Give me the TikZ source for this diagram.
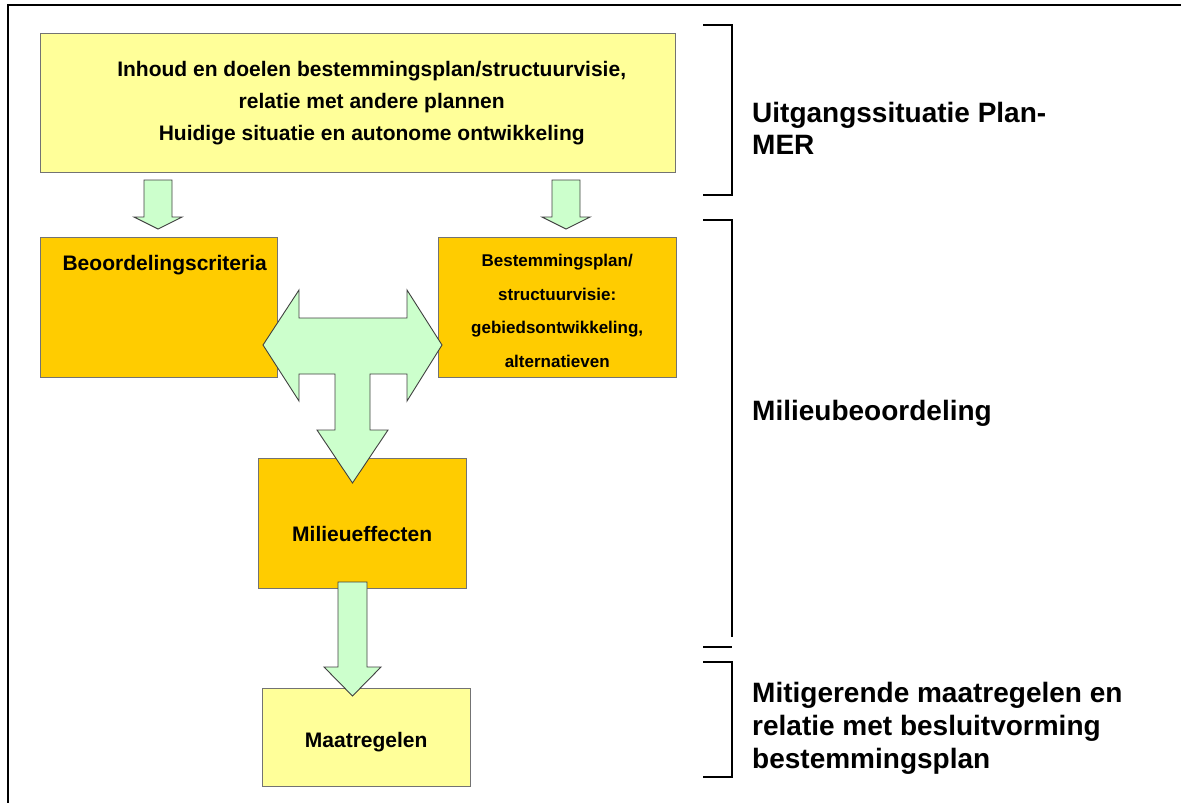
\documentclass[tikz,border=0pt]{standalone}
\usepackage{fontspec}
\setmainfont{Liberation Sans}
\usetikzlibrary{positioning}
\definecolor{paleyellow}{HTML}{FFFF99}
\definecolor{planorange}{HTML}{FFCC00}
\definecolor{palegreen}{HTML}{CCFFCC}
\tikzset{
	startbox/.style  = {draw=black!55, fill=paleyellow, rectangle, anchor=north west, inner sep=0pt},
	stepbox/.style   = {draw=black!55, fill=planorange, rectangle, anchor=north west, inner sep=0pt},
	blockarrow/.style = {draw=black!75, fill=palegreen, line width=0.9pt, line join=miter},
	bracket/.style   = {draw, line width=2.6pt},
	phase/.style     = {anchor=base west, align=left, inner sep=0pt,
		font=\fontsize{28}{32}\selectfont\bfseries}
}
\newcommand{\boxtext}{\fontsize{17}{33.5}\selectfont\bfseries}
\newcommand{\bigboxtext}{\fontsize{21}{32}\selectfont\bfseries}
\newcommand{\indentline}{\hspace*{28pt}}

\begin{document}
\begin{tikzpicture}[x=1pt, y=-1pt]
	\useasboundingbox (0,0) rectangle (1181,803);
	% outer frame (runs off the page at right and bottom)
	\draw[line width=2.6pt] (8,5) rectangle (1195,815);

	\draw
	% Drawing the boxes
	node at (40,33) [startbox, minimum width=635pt, minimum height=139pt, align=center, font=\bigboxtext] (start)
		{\indentline Inhoud en doelen bestemmingsplan/structuurvisie,\\\indentline relatie met andere plannen\\\indentline Huidige situatie en autonome ontwikkeling}
	node at (40,237) [stepbox, minimum width=237pt, text height=33pt, text depth=107pt,
		font=\bigboxtext] (crit) {\hspace*{12pt}Beoordelingscriteria}
	node at (438,237) [stepbox, minimum width=238pt, text height=130pt, text depth=10pt, align=center, font=\boxtext] (alt)
		{Bestemmingsplan/\\structuurvisie:\\gebiedsontwikkeling,\\alternatieven}
	node at (258,458) [stepbox, minimum width=208pt, text height=83pt, text depth=47pt,
		font=\bigboxtext] (eff) {Milieueffecten}
	node at (262,688) [startbox, minimum width=208pt, text height=59pt, text depth=39pt,
		font=\bigboxtext] (mit) {Maatregelen}
	;

	% block arrows from the start box
	\draw[blockarrow] (144,180) -- (172,180) -- (172,217) -- (182,217) -- (158,229)
		-- (134,217) -- (144,217) -- cycle;
	\draw[blockarrow] (552,180) -- (580,180) -- (580,217) -- (590,217) -- (566,229)
		-- (542,217) -- (552,217) -- cycle;
	% double arrow between criteria and alternatives, down to effects
	\draw[blockarrow] (263,345) -- (299,290) -- (299,318) -- (407,318) -- (407,290)
		-- (442,345) -- (407,401) -- (407,374) -- (370,374) -- (370,430) -- (388,430)
		-- (352.5,483) -- (317,430) -- (335,430) -- (335,374) -- (299,374) -- (299,401) -- cycle;
	% effects to measures
	\draw[blockarrow] (338,582) -- (367,582) -- (367,667) -- (381,667) -- (352.5,696)
		-- (324,667) -- (338,667) -- cycle;

	% brackets and phase labels
	\draw[bracket] (703,25) -- (732,25) -- (732,195) -- (703,195);
	\draw[bracket] (703,220) -- (732,220) -- (732,637);
	\draw[bracket] (703,647) -- (732,647);
	\draw[bracket] (703,662) -- (732,662) -- (732,777) -- (703,777);

	\draw
	node at (752,154) [phase] (p1) {Uitgangssituatie Plan-\\MER}
	node at (752,420) [phase] (p2) {Milieubeoordeling}
	node at (752,768) [phase, font=\fontsize{28}{33}\selectfont\bfseries] (p3)
		{Mitigerende maatregelen en\\relatie met besluitvorming\\bestemmingsplan};
\end{tikzpicture}
\end{document}
